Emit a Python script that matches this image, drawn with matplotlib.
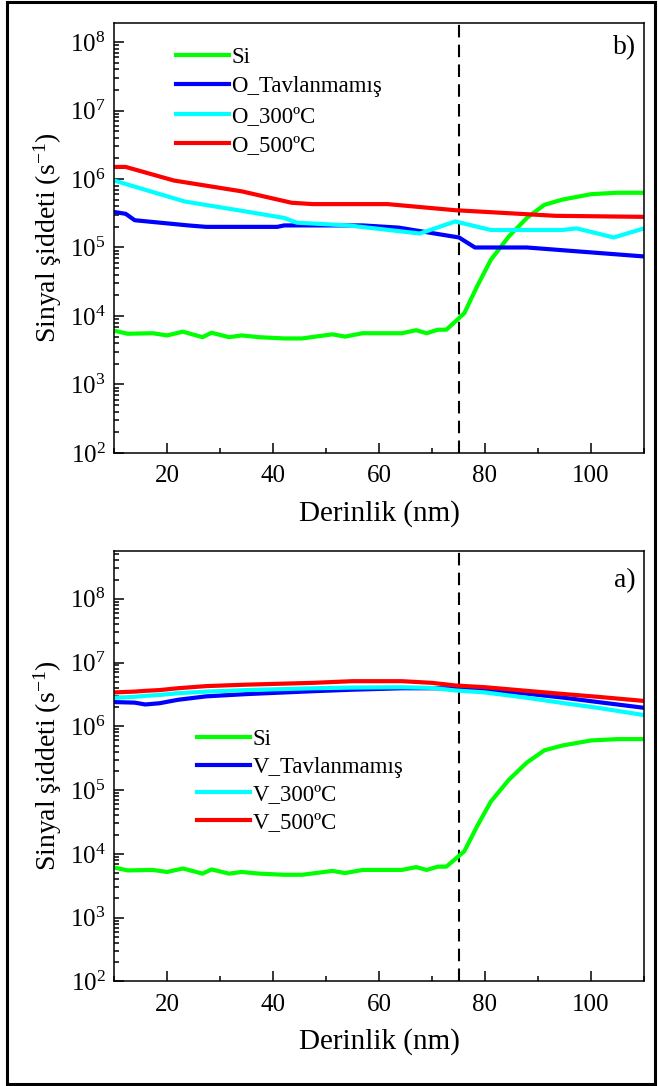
import matplotlib.pyplot as plt
from matplotlib.patches import Rectangle
from matplotlib.ticker import LogLocator, MultipleLocator, NullFormatter

plt.rcParams["font.family"] = ["Liberation Serif", "DejaVu Serif"]
plt.rcParams["mathtext.fontset"] = "custom"
plt.rcParams["mathtext.rm"] = "Liberation Serif"
plt.rcParams["mathtext.it"] = "Liberation Serif:italic"

# Si (ayni profil iki panelde)
SI_X = [10, 12.6, 17.3, 20, 23, 26.7, 28.4, 31.7, 34.1, 37.4, 42.1, 45.5, 51.2, 53.6,
        56.9, 64.3, 67, 69, 71.1, 72.7, 74.4, 76.1, 78.5, 81.1, 84.5, 87.9, 91.2, 94.6,
        100, 105, 110]
SI_Y = [6.1e3, 5.5e3, 5.6e3, 5.2e3, 5.9e3, 4.9e3, 5.7e3, 4.9e3, 5.2e3, 4.9e3, 4.7e3,
        4.7e3, 5.4e3, 5.0e3, 5.6e3, 5.6e3, 6.2e3, 5.6e3, 6.3e3, 6.3e3, 8.3e3, 1.1e4,
        2.7e4, 6.6e4, 1.45e5, 2.7e5, 4.2e5, 5.0e5, 6.0e5, 6.3e5, 6.3e5]

# b) O profilleri
O_TAV_X = [10, 12.2, 13.9, 24, 27.4, 40.8, 42.1, 56.9, 63.7, 75.1, 78.1, 87.9, 110]
O_TAV_Y = [3.3e5, 3.1e5, 2.5e5, 2.1e5, 2.0e5, 2.0e5, 2.1e5, 2.1e5, 1.95e5, 1.4e5,
           1.0e5, 1.0e5, 7.4e4]
O_300_X = [10, 23.3, 35.4, 42.1, 44.5, 54.2, 67.7, 74.4, 81.1, 94.6, 97.3, 104.3, 110]
O_300_Y = [9.5e5, 4.7e5, 3.3e5, 2.7e5, 2.3e5, 2.1e5, 1.6e5, 2.4e5, 1.8e5, 1.8e5,
           1.9e5, 1.4e5, 1.9e5]
O_500_X = [10, 12.2, 21.3, 34.1, 43.5, 47.5, 61.6, 74.4, 93.3, 110]
O_500_Y = [1.5e6, 1.5e6, 9.5e5, 6.6e5, 4.5e5, 4.3e5, 4.3e5, 3.5e5, 2.9e5, 2.8e5]

# a) V profilleri
V_X = [10, 13.9, 15.9, 18.6, 22, 27.4, 35, 47.5, 55, 64.3, 70, 74.4, 80, 87.9, 95,
       101.3, 110]
V_TAV_Y = [2.4e6, 2.35e6, 2.2e6, 2.3e6, 2.6e6, 2.95e6, 3.2e6, 3.55e6, 3.75e6, 3.95e6,
           3.95e6, 3.95e6, 3.7e6, 3.25e6, 2.8e6, 2.4e6, 1.95e6]
V_300_Y = [2.8e6, 2.9e6, 3.0e6, 3.1e6, 3.3e6, 3.5e6, 3.7e6, 3.95e6, 4.05e6, 4.1e6,
           4.0e6, 3.65e6, 3.4e6, 2.8e6, 2.3e6, 1.95e6, 1.5e6]
V_500_Y = [3.4e6, 3.5e6, 3.6e6, 3.7e6, 3.95e6, 4.27e6, 4.5e6, 4.8e6, 5.1e6, 5.1e6,
           4.8e6, 4.37e6, 4.1e6, 3.6e6, 3.2e6, 2.9e6, 2.5e6]

GREEN = "#00ff00"
BLUE = "#0000ff"
CYAN = "#00ffff"
RED = "#ff0000"

fig = plt.figure(figsize=(6.58, 10.86), dpi=100)
ax_b = fig.add_axes([0.1733, 0.5829, 0.8054, 0.396])
ax_a = fig.add_axes([0.1733, 0.0963, 0.8054, 0.3963])

fig.patches.append(Rectangle((6.5 / 658, 2 / 1086), 648.5 / 658, 1082 / 1086,
                             transform=fig.transFigure, fill=False,
                             edgecolor="black", lw=2.2))


def style(ax, ymax, tag, tag_y):
    ax.set_yscale("log")
    ax.set_xlim(10, 110)
    ax.set_ylim(1e2, ymax)
    ax.xaxis.set_major_locator(MultipleLocator(20))
    ax.xaxis.set_minor_locator(MultipleLocator(10))
    ax.yaxis.set_major_locator(LogLocator(base=10, numticks=20))
    ax.yaxis.set_minor_locator(LogLocator(base=10, subs=range(2, 10), numticks=20))
    ax.yaxis.set_minor_formatter(NullFormatter())
    ax.tick_params(which="both", direction="in", top=False, right=False, width=1.1)
    ax.tick_params(which="major", length=7, labelsize=18)
    ax.tick_params(which="minor", length=3.5)
    ax.tick_params(axis="x", which="major", pad=9)
    ax.tick_params(axis="y", which="major", pad=6)
    for s in ax.spines.values():
        s.set_linewidth(1.1)
    ax.axvline(75, color="black", lw=1.5, ls=(0, (6, 3.5)), zorder=1)
    ax.set_xlabel("Derinlik (nm)", fontsize=21, labelpad=9)
    ax.set_ylabel(r"Sinyal şiddeti (s$^{\mathdefault{-1}}$)", fontsize=20, labelpad=4)
    ax.text(0.985, tag_y, tag, transform=ax.transAxes, ha="right", va="top",
            fontsize=20)


lw = 3.0
ax_b.plot(SI_X, SI_Y, color=GREEN, lw=lw, label="Si")
ax_b.plot(O_TAV_X, O_TAV_Y, color=BLUE, lw=lw, label="O_Tavlanmamış")
ax_b.plot(O_300_X, O_300_Y, color=CYAN, lw=lw, label="O_300ºC")
ax_b.plot(O_500_X, O_500_Y, color=RED, lw=lw, label="O_500ºC")
style(ax_b, 1.9e8, "b)", 0.972)
ax_b.legend(loc="upper left", bbox_to_anchor=(0.1, 0.965), frameon=False,
            fontsize=16.5, handlelength=2.3, handletextpad=0.1, labelspacing=0.36,
            borderaxespad=0)

ax_a.plot(SI_X, SI_Y, color=GREEN, lw=lw, label="Si")
ax_a.plot(V_X, V_TAV_Y, color=BLUE, lw=lw, label="V_Tavlanmamış")
ax_a.plot(V_X, V_300_Y, color=CYAN, lw=lw, label="V_300ºC")
ax_a.plot(V_X, V_500_Y, color=RED, lw=lw, label="V_500ºC")
style(ax_a, 5.6e8, "a)", 0.96)
ax_a.legend(loc="upper left", bbox_to_anchor=(0.14, 0.607), frameon=False,
            fontsize=16.5, handlelength=2.3, handletextpad=0.1, labelspacing=0.28,
            borderaxespad=0)

fig.savefig("out.png", dpi=100)
